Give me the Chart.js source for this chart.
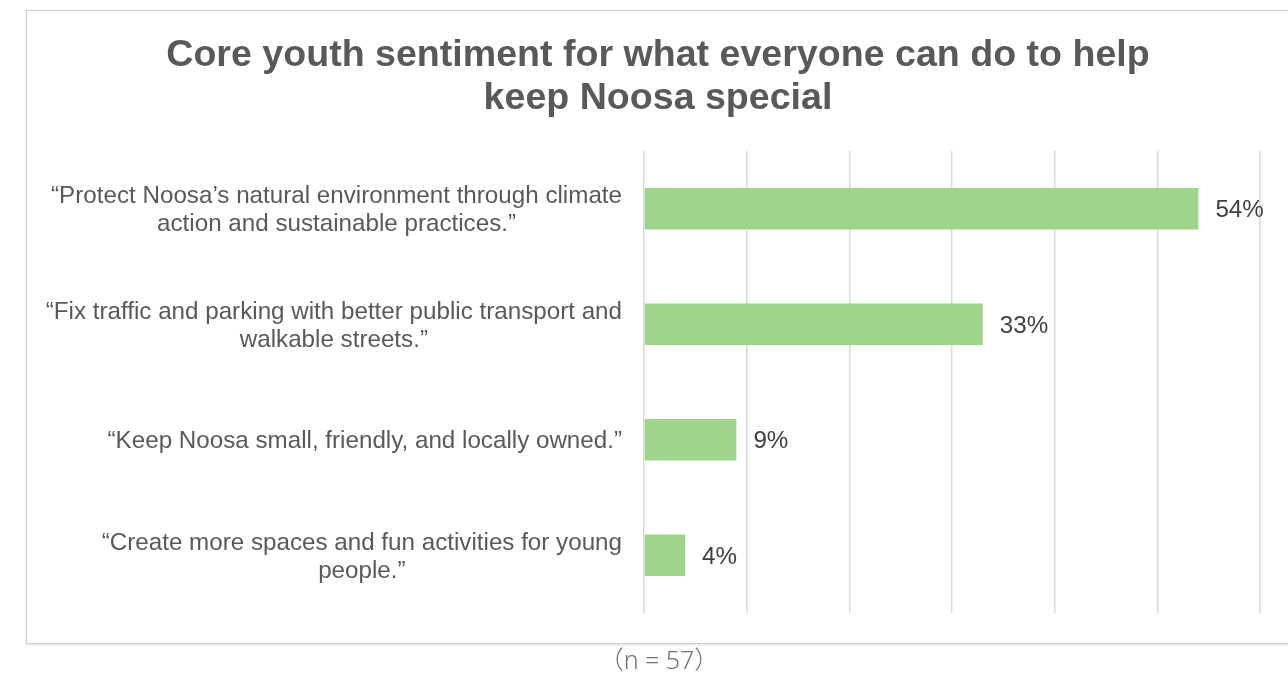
<!DOCTYPE html>
<html lang="en">
<head>
    <meta charset="UTF-8">
    <title>Core youth sentiment</title>
    <script src="https://cdn.jsdelivr.net/npm/chart.js"></script>
    <style>
        html, body {
            margin: 0;
            padding: 0;
            background: #fff;
            overflow: hidden;
            width: 1288px;
            height: 675px;
        }
        .chart-box {
            position: absolute;
            left: 26px;
            top: 10px;
            width: 1262px;
            height: 632px;
            border: 1.5px solid #cfcfcf;
            box-shadow: 0 1px 2px rgba(0,0,0,0.12);
            background: #fff;
        }
        .note {
            position: absolute;
            left: 0;
            width: 1318px;
            top: 640px;
            text-align: center;
            font-family: "Noto Sans", "Noto Sans CJK SC", sans-serif;
            font-weight: 300;
            font-size: 25px;
            color: #707070;
        }
    </style>
</head>
<body>
    <div class="chart-box">
        <canvas id="sentimentChart" width="1262" height="632"></canvas>
    </div>
    <div class="note">（n = 57）</div>

    <script>
        const titleLines = ['Core youth sentiment for what everyone can do to help', 'keep Noosa special'];
        // each answer split into the lines it is shown on
        const answers = [
            ['\u201cProtect Noosa\u2019s natural environment through climate', 'action and sustainable practices.\u201d'],
            ['\u201cFix traffic and parking with better public transport and', 'walkable streets.\u201d'],
            ['\u201cKeep Noosa small, friendly, and locally owned.\u201d'],
            ['\u201cCreate more spaces and fun activities for young', 'people.\u201d']
        ];
        const shares = [54, 33, 9, 4];   // percent of respondents
        const axisTicks = [0, 10, 20, 30, 40, 50, 60];

        const labelFont = '24.2px "Liberation Sans", Arial, sans-serif';

        // title centred on the whole canvas, not just the plot
        const chartTitle = {
            id: 'chartTitle',
            afterDraw(chart) {
                const ctx = chart.ctx;
                ctx.save();
                ctx.font = 'bold 37.6px "Liberation Sans", Arial, sans-serif';
                ctx.fillStyle = '#595959';
                ctx.textAlign = 'center';
                ctx.textBaseline = 'alphabetic';
                const cx = chart.width / 2;
                titleLines.forEach((l, k) => ctx.fillText(l, cx, 55 + k * 43));
                ctx.restore();
            }
        };

        // category labels: right edge fixed, lines centred on each other
        const answerLabels = {
            id: 'answerLabels',
            afterDraw(chart) {
                const ctx = chart.ctx;
                const y = chart.scales.y;
                ctx.save();
                ctx.font = labelFont;
                ctx.fillStyle = '#595959';
                ctx.textAlign = 'center';
                ctx.textBaseline = 'middle';
                const lineH = 28;
                const right = chart.chartArea.left - 22;
                answers.forEach((lines, i) => {
                    const w = Math.max(...lines.map(l => ctx.measureText(l).width));
                    const cx = right - w / 2;
                    const cy = y.getPixelForValue(i) + 2;
                    const top = cy - (lines.length - 1) * lineH / 2;
                    lines.forEach((l, k) => ctx.fillText(l, cx, top + k * lineH));
                });
                ctx.restore();
            }
        };

        // value labels at the end of each bar
        const valueLabels = {
            id: 'valueLabels',
            afterDatasetsDraw(chart) {
                const ctx = chart.ctx;
                const meta = chart.getDatasetMeta(0);
                ctx.save();
                ctx.font = labelFont;
                ctx.fillStyle = '#404040';
                ctx.textAlign = 'left';
                ctx.textBaseline = 'middle';
                meta.data.forEach((bar, i) => {
                    ctx.fillText(shares[i] + '%', bar.x + 17, bar.y + 2);
                });
                ctx.restore();
            }
        };

        const ctx = document.getElementById('sentimentChart').getContext('2d');
        new Chart(ctx, {
            type: 'bar',
            data: {
                labels: answers.map(a => a.join(' ')),
                datasets: [{
                    data: shares,
                    backgroundColor: '#9dd68a',
                    borderWidth: 0,
                    barPercentage: 0.36,
                    categoryPercentage: 1
                }]
            },
            options: {
                indexAxis: 'y',
                responsive: false,
                animation: false,
                layout: {
                    padding: { left: 0, right: 29, top: 140, bottom: 30 }
                },
                plugins: {
                    legend: { display: false },
                    tooltip: { enabled: false },
                    title: { display: false }
                },
                scales: {
                    x: {
                        min: 0,
                        max: 60,
                        afterBuildTicks: axis => { axis.ticks = axisTicks.map(v => ({ value: v })); },
                        ticks: { display: false },
                        grid: { color: '#d9d9d9', lineWidth: 1.5, drawTicks: false },
                        border: { display: false }
                    },
                    y: {
                        // room on the left for the answer text
                        afterFit: scale => { scale.width = 617; },
                        ticks: { display: false },
                        grid: { display: false, drawTicks: false },
                        border: { display: false }
                    }
                }
            },
            plugins: [chartTitle, answerLabels, valueLabels]
        });
    </script>
</body>
</html>
